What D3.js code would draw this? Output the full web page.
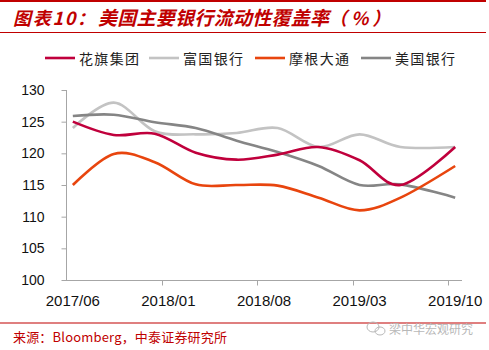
<!DOCTYPE html>
<html>
<head>
<meta charset="utf-8">
<script src="https://cdn.jsdelivr.net/npm/d3@7"></script>
<style>
  body { margin: 0; background: #fff; }
  svg { display: block; }
</style>
</head>
<body>
<div id="chart"></div>
<script>
// axis categories (monthly) and the dates that carry data
var months = ['2017/06','2017/07','2017/08','2017/09','2017/10','2017/11','2017/12',
  '2018/01','2018/02','2018/03','2018/04','2018/05','2018/06','2018/07',
  '2018/08','2018/09','2018/10','2018/11','2018/12','2019/01','2019/02',
  '2019/03','2019/04','2019/05','2019/06','2019/07','2019/08','2019/09','2019/10'];
var tickLabels = ['2017/06','2018/01','2018/08','2019/03','2019/10'];
var dates = ['2017/06','2017/09','2017/12','2018/03','2018/06','2018/09','2018/12','2019/03','2019/06','2019/10'];

var citi  = [125.0, 122.9, 123.1, 120.1, 119.0, 119.8, 121.0, 118.9, 115.0, 121.0];
var wells = [124.0, 128.0, 123.5, 123.0, 123.2, 124.0, 121.0, 123.0, 121.0, 121.0];
var jpm   = [115.0, 119.9, 118.6, 115.1, 115.0, 114.9, 113.0, 111.0, 113.0, 118.0];
var bac   = [125.9, 126.1, 124.9, 124.0, 122.0, 120.2, 118.0, 115.0, 115.1, 113.0];

var seriesNames = ['花旗集团', '富国银行', '摩根大通', '美国银行'];
var yTicks = [100, 105, 110, 115, 120, 125, 130];

var width = 489, height = 350;
var red = '#C00000';
var colors = ['#C0003C', '#C3C3C3', '#E8450E', '#858585'];

var svg = d3.select('#chart').append('svg')
    .attr('width', width)
    .attr('height', height);

svg.append('rect').attr('width', width).attr('height', height).attr('fill', '#fff');

// header bars
svg.append('rect').attr('x', 0).attr('y', 0).attr('width', 486).attr('height', 2).attr('fill', red);
svg.append('rect').attr('x', 0).attr('y', 32).attr('width', 486).attr('height', 1).attr('fill', red);
svg.append('rect').attr('x', 0).attr('y', 322.5).attr('width', 486).attr('height', 1).attr('fill', red);

var cjk = '"Noto Sans CJK SC", "Noto Sans", sans-serif';

var title = svg.append('g')
    .attr('fill', red)
    .style('font-family', cjk)
    .style('font-weight', 'bold')
    .style('font-style', 'italic');
title.append('text').attr('x', 13).attr('y', 25).attr('textLength', 82)
    .style('font-size', '18px').text('图表10：');
title.append('text').attr('x', 98).attr('y', 25).attr('textLength', 231)
    .style('font-size', '19px').text('美国主要银行流动性覆盖率');
title.append('text').attr('x', 329).attr('y', 25)
    .style('font-size', '18px').style('letter-spacing', '4px').text('（%）');

// scales
var x = d3.scaleBand().domain(months).range([66, 462]);
var y = d3.scaleLinear().domain([100, 130]).range([280, 90]);
var cx = function (m) { return x(m) + x.bandwidth() / 2; };

// y axis
var yAxis = svg.append('g')
    .attr('transform', 'translate(66.5,0)')
    .call(d3.axisLeft(y).tickValues(yTicks).tickSize(5).tickFormat(d3.format('d')));
yAxis.select('.domain').attr('stroke', '#A6A6A6').attr('d', 'M0,90V280');
yAxis.selectAll('.tick line').attr('stroke', '#A6A6A6');
yAxis.selectAll('.tick text')
    .attr('x', -22).attr('fill', '#111')
    .style('font-family', '"Liberation Sans", Arial, sans-serif')
    .style('font-size', '14px');

// x axis: tick marks at band edges, labels at band centres
var xAxis = svg.append('g').attr('transform', 'translate(0,280.5)');
xAxis.append('line')
    .attr('x1', 66).attr('x2', 462).attr('stroke', '#A6A6A6');
xAxis.selectAll('line.tk')
    .data(tickLabels.slice(1))
    .enter().append('line')
    .attr('class', 'tk')
    .attr('x1', function (d) { return Math.round(x(d)) + 0.5; })
    .attr('x2', function (d) { return Math.round(x(d)) + 0.5; })
    .attr('y1', 0).attr('y2', 5)
    .attr('stroke', '#A6A6A6');
xAxis.selectAll('text')
    .data(tickLabels)
    .enter().append('text')
    .attr('x', cx)
    .attr('y', 25)
    .attr('text-anchor', 'middle')
    .attr('fill', '#111')
    .style('font-family', '"Liberation Sans", Arial, sans-serif')
    .style('font-size', '15px')
    .text(function (d) { return d; });

// lines
var line = d3.line()
    .x(function (d) { return cx(d.date); })
    .y(function (d) { return y(d.v); })
    .curve(d3.curveCardinal.tension(0));

var allSeries = [citi, wells, jpm, bac];
// draw order: so that 花旗 sits on top like the original
[1, 3, 2, 0].forEach(function (i) {
    var pts = allSeries[i].map(function (v, k) { return { date: dates[k], v: v }; });
    svg.append('path')
        .datum(pts)
        .attr('d', line)
        .attr('fill', 'none')
        .attr('stroke', colors[i])
        .attr('stroke-width', 2.6)
        .attr('stroke-linejoin', 'round');
});

// legend
var legendX = [45, 149, 255, 361];
var lg = svg.selectAll('.lg')
    .data(seriesNames)
    .enter().append('g')
    .attr('class', 'lg')
    .attr('transform', function (d, i) { return 'translate(' + legendX[i] + ',58)'; });
lg.append('line')
    .attr('x1', 0).attr('x2', 30)
    .attr('stroke', function (d, i) { return colors[i]; })
    .attr('stroke-width', 2.6);
lg.append('text')
    .attr('x', 34).attr('y', 6)
    .attr('textLength', 60)
    .attr('fill', '#222')
    .style('font-family', cjk)
    .style('font-size', '14px')
    .text(function (d) { return d; });

// source
svg.append('text')
    .attr('x', 13).attr('y', 342)
    .attr('textLength', 214)
    .attr('fill', red)
    .style('font-family', cjk)
    .style('font-size', '13px')
    .text('来源：Bloomberg，中泰证券研究所');

// watermark
var wm = svg.append('g').attr('fill', 'none').attr('stroke', '#B8B8B8').attr('stroke-width', 1);
wm.append('ellipse').attr('cx', 373).attr('cy', 327).attr('rx', 6).attr('ry', 5);
wm.append('ellipse').attr('cx', 380).attr('cy', 331).attr('rx', 5).attr('ry', 4);
svg.append('text')
    .attr('x', 389).attr('y', 334)
    .attr('textLength', 84)
    .attr('fill', '#B8B8B8')
    .style('font-family', cjk)
    .style('font-size', '12px')
    .text('梁中华宏观研究');
</script>
</body>
</html>
